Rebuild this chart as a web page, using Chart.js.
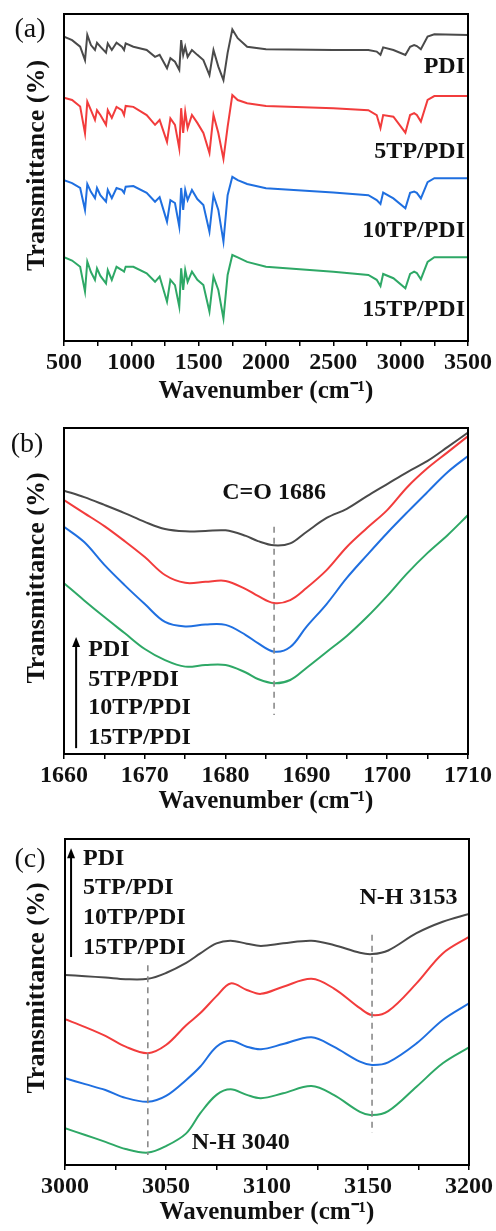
<!DOCTYPE html>
<html><head><meta charset="utf-8">
<script src="https://cdn.jsdelivr.net/npm/chart.js@4"></script>
<style>
html,body{margin:0;padding:0;background:#fff;}
#wrap{position:relative;width:496px;height:1231px;background:#fff;}
canvas{position:absolute;left:0;}
</style></head><body>
<div id="wrap">
<canvas id="ca" width="496" height="410" style="top:0"></canvas>
<canvas id="cb" width="496" height="410" style="top:410px"></canvas>
<canvas id="cc" width="496" height="411" style="top:820px"></canvas>
</div>
<script>
const seriesNames = ['PDI', '5TP/PDI', '10TP/PDI', '15TP/PDI'];
const seriesColors = ['#4a4a4a', '#f23c3c', '#1f6fe0', '#2ea866'];

// Panel (a): full range
const wnA = [500, 560, 620, 656, 673, 700, 730, 745, 770, 812, 825, 855, 890, 930, 946, 958, 1015, 1114, 1176, 1210, 1265, 1290, 1324, 1356, 1370, 1385, 1400, 1418, 1450, 1490, 1535, 1580, 1610, 1646, 1684, 1715, 1750, 1790, 1860, 2000, 2500, 2760, 2822, 2850, 2870, 2946, 3035, 3070, 3100, 3120, 3150, 3200, 3250, 3500];
const pdiA = [93.1, 92.0, 90.0, 85.9, 93.6, 90.5, 89.0, 91.2, 90.0, 88.2, 91.0, 89.0, 91.2, 90.0, 89.0, 91.0, 90.0, 89.0, 86.9, 87.5, 83.4, 86.5, 85.4, 82.9, 92.0, 87.5, 90.0, 86.9, 89.0, 87.5, 85.9, 81.3, 89.0, 83.9, 79.8, 88.1, 95.3, 92.6, 90.0, 89.2, 89.0, 89.0, 88.5, 87.5, 89.8, 89.0, 87.5, 90.0, 90.5, 90.2, 89.2, 93.1, 93.8, 93.6];
const tp5A = [74.4, 73.7, 71.7, 63.5, 73.2, 70.6, 67.6, 70.6, 69.1, 66.1, 70.6, 68.2, 71.6, 70.6, 69.1, 71.9, 71.6, 69.1, 66.1, 67.6, 60.9, 68.1, 66.1, 58.9, 71.2, 63.6, 70.1, 65.1, 69.1, 66.7, 63.6, 57.5, 69.1, 63.6, 55.7, 65.5, 75.2, 73.7, 72.7, 71.9, 71.2, 70.6, 69.1, 65.1, 69.1, 68.6, 63.7, 69.1, 69.7, 69.1, 67.1, 73.7, 74.9, 74.9];
const tp10A = [49.2, 48.3, 46.8, 40.1, 48.0, 45.6, 43.7, 46.8, 44.6, 42.6, 46.2, 43.7, 46.8, 46.2, 45.3, 47.2, 47.4, 45.3, 42.6, 44.0, 36.5, 43.1, 42.2, 35.0, 46.8, 40.1, 46.2, 43.1, 46.2, 43.4, 41.6, 33.4, 44.6, 40.1, 30.4, 44.6, 50.2, 49.2, 48.0, 46.7, 45.4, 44.6, 43.1, 41.9, 45.4, 43.6, 40.6, 45.3, 45.7, 45.3, 43.6, 48.6, 49.8, 49.8];
const tp15A = [25.6, 24.6, 22.7, 15.1, 24.3, 21.1, 18.7, 22.2, 19.9, 17.6, 21.7, 18.7, 22.7, 21.7, 21.2, 22.7, 22.7, 20.7, 18.1, 19.7, 12.0, 18.7, 17.1, 10.5, 22.2, 15.6, 21.7, 18.1, 21.2, 18.7, 17.1, 9.0, 19.7, 15.6, 6.9, 20.2, 26.3, 25.6, 24.2, 22.7, 21.2, 20.2, 18.7, 16.8, 20.5, 19.2, 16.1, 20.5, 21.2, 20.8, 18.9, 24.2, 25.6, 25.6];
const ticksA = {min: 500, max: 3500, step: 250, labelStep: 500};

// Panel (b): C=O region
const wnB = [1660, 1662.5, 1665, 1667.5, 1670, 1672.5, 1675, 1677.5, 1680, 1682.5, 1684, 1686, 1688, 1690, 1692.5, 1695, 1697.5, 1700, 1702.5, 1705, 1707.5, 1710];
const pdiB = [80.8, 78.8, 76.4, 73.9, 71.2, 69.0, 68.3, 68.4, 68.6, 66.9, 65.3, 64.0, 64.6, 68.1, 72.4, 75.2, 79.1, 82.8, 86.5, 89.9, 94.2, 98.6];
const tp5B = [77.9, 73.9, 69.9, 65.3, 60.4, 54.9, 52.5, 52.8, 53.1, 50.6, 48.5, 46.3, 47.2, 50.9, 56.4, 63.5, 69.3, 74.8, 81.9, 87.7, 92.6, 97.5];
const tp10B = [69.7, 65.0, 58.0, 51.8, 46.0, 40.5, 39.1, 39.7, 39.6, 36.5, 34.0, 31.4, 32.8, 39.0, 46.0, 54.0, 61.0, 67.8, 74.2, 80.4, 86.5, 91.4];
const tp15B = [52.4, 47.1, 42.0, 37.1, 32.2, 28.8, 26.8, 27.3, 27.3, 25.0, 23.0, 21.7, 22.7, 26.4, 31.3, 36.2, 42.0, 48.5, 55.5, 61.7, 67.2, 73.3];
const ticksB = {min: 1660, max: 1710, step: 5, labelStep: 10};

// Panel (c): N-H region
const wnC = [3000, 3010, 3020, 3030, 3041, 3050, 3060, 3067, 3075, 3082, 3090, 3097, 3108, 3122, 3133, 3146, 3152, 3160, 3174, 3187, 3200];
const pdiC = [58.3, 57.9, 57.5, 57.0, 57.1, 58.9, 62.0, 64.9, 68.0, 68.8, 67.9, 67.2, 68.0, 68.8, 67.5, 65.1, 64.7, 65.8, 71.1, 74.6, 77.0];
const tp5C = [44.7, 42.3, 39.6, 36.3, 34.3, 36.8, 42.9, 46.6, 51.8, 55.7, 53.7, 52.5, 54.7, 57.1, 54.2, 48.1, 46.0, 47.2, 55.7, 64.9, 70.0];
const tp10C = [26.6, 24.8, 23.0, 20.6, 19.4, 21.2, 26.1, 30.2, 36.3, 38.1, 36.3, 35.5, 37.1, 39.2, 36.3, 31.7, 30.7, 31.5, 37.3, 44.5, 49.6];
const tp15C = [11.3, 9.2, 7.1, 4.9, 3.8, 5.8, 9.7, 15.9, 21.5, 23.2, 21.5, 20.5, 22.0, 24.2, 21.5, 16.3, 15.3, 16.5, 24.0, 31.2, 36.1];
const ticksC = {min: 3000, max: 3200, step: 25, labelStep: 50};

const xTitle = 'Wavenumber (cm⁻¹)';
const yTitle = 'Transmittance (%)';
const SERIF = '"Liberation Serif", "Times New Roman", serif';

const decor = {
  id: 'decor',
  afterDraw(chart, args, o) {
    const {ctx, chartArea: ca, scales: {x, y}} = chart;
    ctx.save();
    // frame
    ctx.strokeStyle = '#000'; ctx.lineWidth = 2;
    ctx.strokeRect(ca.left, ca.top, ca.right - ca.left, ca.bottom - ca.top);
    // dashed markers
    (o.dashes || []).forEach(d => {
      ctx.save();
      ctx.strokeStyle = '#8a8a8a'; ctx.lineWidth = 1.6; ctx.setLineDash([6, 5]);
      ctx.beginPath();
      ctx.moveTo(x.getPixelForValue(d.x), y.getPixelForValue(d.y1));
      ctx.lineTo(x.getPixelForValue(d.x), y.getPixelForValue(d.y2));
      ctx.stroke();
      ctx.restore();
    });
    // texts
    ctx.fillStyle = '#111';
    ctx.textBaseline = 'middle';
    ctx.font = 'bold 24px ' + SERIF;
    (o.texts || []).forEach(t => {
      ctx.textAlign = t.align || 'center';
      ctx.fillText(t.text, x.getPixelForValue(t.x), y.getPixelForValue(t.y));
    });
    // arrow
    if (o.arrow) {
      const ax = x.getPixelForValue(o.arrow.x);
      const y1 = y.getPixelForValue(o.arrow.y1), y2 = y.getPixelForValue(o.arrow.y2);
      ctx.strokeStyle = '#000'; ctx.lineWidth = 2;
      ctx.beginPath(); ctx.moveTo(ax, y1); ctx.lineTo(ax, y2 + 8); ctx.stroke();
      ctx.fillStyle = '#000';
      ctx.beginPath(); ctx.moveTo(ax, y2); ctx.lineTo(ax - 4, y2 + 10); ctx.lineTo(ax + 4, y2 + 10); ctx.closePath(); ctx.fill();
    }
    // y title
    ctx.fillStyle = '#111';
    ctx.font = 'bold 26px ' + SERIF;
    ctx.textAlign = 'center'; ctx.textBaseline = 'middle';
    ctx.save();
    ctx.translate(o.yTitleX, (ca.top + ca.bottom) / 2 + o.yTitleShift);
    ctx.rotate(-Math.PI / 2);
    ctx.fillText(yTitle, 0, 0);
    ctx.restore();
    // panel letter
    ctx.font = '28px ' + SERIF;
    ctx.fillText(o.letter, o.letterX, o.letterY);
    ctx.restore();
  }
};

function makeChart(id, cfg) {
  const datasets = cfg.series.map((s, i) => ({
    label: seriesNames[i],
    data: cfg.x.map((xv, j) => ({x: xv, y: s[j]})),
    borderColor: seriesColors[i],
    borderWidth: 2,
    pointRadius: 0,
    fill: false,
    tension: cfg.smooth ? 0.35 : 0
  }));
  return new Chart(document.getElementById(id), {
    type: 'line',
    data: {datasets},
    options: {
      responsive: false, animation: false, devicePixelRatio: 1,
      layout: {padding: {left: cfg.left, right: cfg.right, top: cfg.top, bottom: 0}},
      plugins: {legend: {display: false}, tooltip: {enabled: false}, decor: cfg.decor},
      scales: {
        x: {
          type: 'linear', min: cfg.ticks.min, max: cfg.ticks.max,
          ticks: {
            stepSize: cfg.ticks.step, autoSkip: false, maxRotation: 0, color: '#111', padding: 2,
            font: {family: SERIF, weight: 'bold', size: 24},
            callback: v => (Math.abs(v % cfg.ticks.labelStep) < 1e-6) ? String(v) : ''
          },
          grid: {drawOnChartArea: false, drawTicks: true, tickLength: 5, color: '#000', lineWidth: 1.5},
          border: {display: false},
          title: {display: true, text: xTitle, color: '#111', font: {family: SERIF, weight: 'bold', size: 25, lineHeight: 1.2}, padding: {top: 0, bottom: 3}},
          afterFit: s => { s.height = cfg.xh; }
        },
        y: {display: false, min: 0, max: 100}
      }
    },
    plugins: [decor]
  });
}

makeChart('ca', {
  x: wnA, series: [pdiA, tp5A, tp10A, tp15A], ticks: ticksA, smooth: false,
  left: 64, right: 28, top: 14, xh: 69,
  decor: {
    letter: '(a)', letterX: 30, letterY: 30, yTitleX: 37, yTitleShift: -12,
    texts: [
      {text: 'PDI', x: 3478, y: 83.8, align: 'right'},
      {text: '5TP/PDI', x: 3478, y: 57.8, align: 'right'},
      {text: '10TP/PDI', x: 3478, y: 33.6, align: 'right'},
      {text: '15TP/PDI', x: 3478, y: 9.5, align: 'right'}
    ]
  }
});

makeChart('cb', {
  x: wnB, series: [pdiB, tp5B, tp10B, tp15B], ticks: ticksB, smooth: true,
  left: 64, right: 28, top: 18, xh: 66,
  decor: {
    letter: '(b)', letterX: 27, letterY: 35, yTitleX: 37, yTitleShift: -13,
    dashes: [{x: 1686, y1: 69.7, y2: 12.0}],
    texts: [
      {text: 'C=O 1686', x: 1686, y: 80.2},
      {text: 'PDI', x: 1663, y: 31.9, align: 'left'},
      {text: '5TP/PDI', x: 1663, y: 22.7, align: 'left'},
      {text: '10TP/PDI', x: 1663, y: 14.1, align: 'left'},
      {text: '15TP/PDI', x: 1663, y: 4.9, align: 'left'}
    ],
    arrow: {x: 1661.5, y1: 1.8, y2: 35.9}
  }
});

makeChart('cc', {
  x: wnC, series: [pdiC, tp5C, tp10C, tp15C], ticks: ticksC, smooth: true,
  left: 65, right: 27, top: 19, xh: 66,
  decor: {
    letter: '(c)', letterX: 30, letterY: 40, yTitleX: 37, yTitleShift: -14,
    dashes: [{x: 3041, y1: 61.3, y2: 3.1}, {x: 3152, y1: 70.6, y2: 9.8}],
    texts: [
      {text: 'N-H 3153', x: 3170, y: 81.9},
      {text: 'N-H 3040', x: 3087, y: 6.7},
      {text: 'PDI', x: 3008.9, y: 93.9, align: 'left'},
      {text: '5TP/PDI', x: 3008.9, y: 85.0, align: 'left'},
      {text: '10TP/PDI', x: 3008.9, y: 75.8, align: 'left'},
      {text: '15TP/PDI', x: 3008.9, y: 66.6, align: 'left'}
    ],
    arrow: {x: 3003, y1: 63.8, y2: 97.2}
  }
});
</script>
</body></html>
